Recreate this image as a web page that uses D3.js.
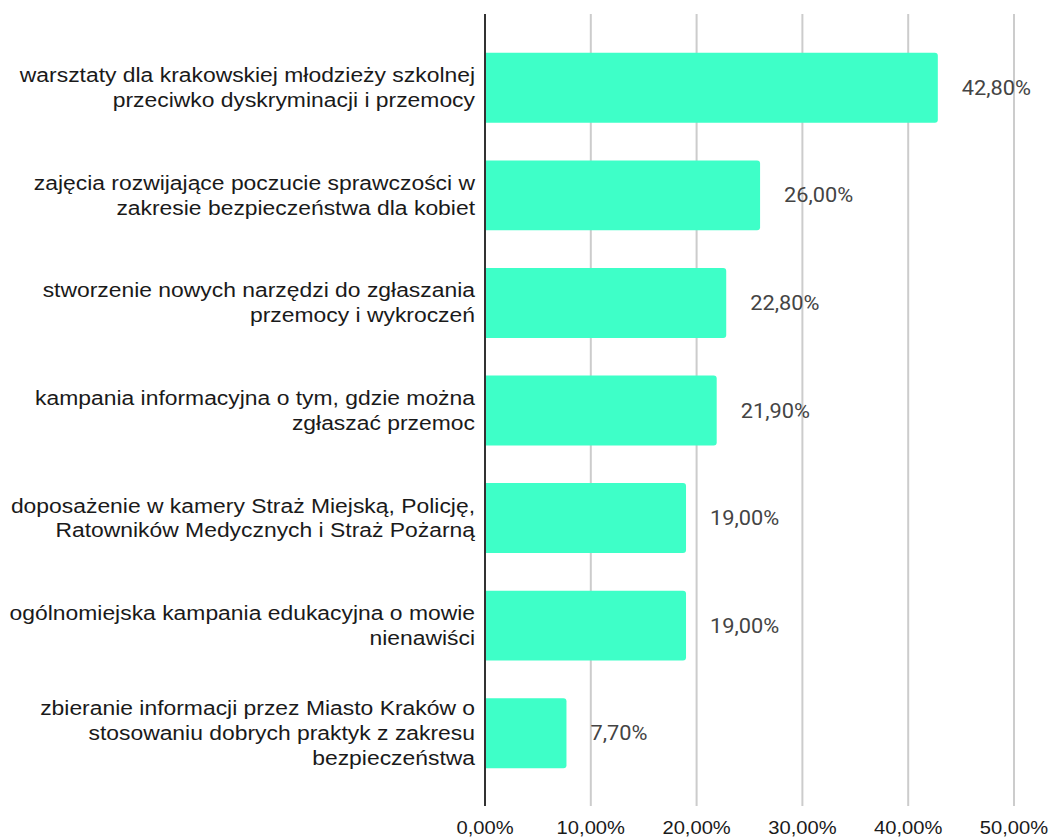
<!DOCTYPE html>
<html>
<head>
<meta charset="utf-8">
<script src="https://cdn.jsdelivr.net/npm/d3@7"></script>
<style>
  body { margin: 0; background: #fff; }
  svg { display: block; }
</style>
</head>
<body>
<svg id="chart" width="1052" height="837"></svg>
<script>
// etykiety kategorii (podzielone na linie jak w oryginale)
const categories = [
  ['warsztaty dla krakowskiej młodzieży szkolnej', 'przeciwko dyskryminacji i przemocy'],
  ['zajęcia rozwijające poczucie sprawczości w', 'zakresie bezpieczeństwa dla kobiet'],
  ['stworzenie nowych narzędzi do zgłaszania', 'przemocy i wykroczeń'],
  ['kampania informacyjna o tym, gdzie można', 'zgłaszać przemoc'],
  ['doposażenie w kamery Straż Miejską, Policję,', 'Ratowników Medycznych i Straż Pożarną'],
  ['ogólnomiejska kampania edukacyjna o mowie', 'nienawiści'],
  ['zbieranie informacji przez Miasto Kraków o', 'stosowaniu dobrych praktyk z zakresu', 'bezpieczeństwa']
]
const values = [42.8, 26.0, 22.8, 21.9, 19.0, 19.0, 7.7]
const ticks = [0, 10, 20, 30, 40, 50]

const fmt = (v) => v.toFixed(2).replace('.', ',') + '%'

const svg = d3.select('#chart')
const left = 485, right = 1014
const gridTop = 14, gridBottom = 806
const labelFont = 'Arial, "Liberation Sans", sans-serif'
const sx = 1.09 // obraz źródłowy jest lekko rozciągnięty w poziomie

const x = d3.scaleLinear().domain([0, 50]).range([left, right])
const y = d3.scaleBand()
  .domain(d3.range(categories.length))
  .range([34, 787])
  .paddingInner(0.35)
  .paddingOuter(0.175)

// siatka
svg.append('g')
  .selectAll('line')
  .data(ticks.slice(1))
  .enter()
  .append('line')
  .attr('x1', d => x(d)).attr('x2', d => x(d))
  .attr('y1', gridTop).attr('y2', gridBottom)
  .style('stroke', '#cccccc')
  .style('stroke-width', 2)

// słupki
svg.append('g')
  .selectAll('path')
  .data(values)
  .enter()
  .append('path')
  .attr('d', (d, i) => {
    const x0 = x(0), x1 = x(d), y0 = y(i), h = y.bandwidth(), r = 3
    return `M${x0},${y0}H${x1 - r}Q${x1},${y0} ${x1},${y0 + r}V${y0 + h - r}Q${x1},${y0 + h} ${x1 - r},${y0 + h}H${x0}Z`
  })
  .style('fill', '#3effc8')

// oś zerowa
svg.append('line')
  .attr('x1', x(0)).attr('x2', x(0))
  .attr('y1', gridTop).attr('y2', gridBottom)
  .style('stroke', '#333333')
  .style('stroke-width', 2)

// wartości
svg.append('g')
  .selectAll('text')
  .data(values)
  .enter()
  .append('text')
  .attr('transform', (d, i) => `translate(${x(d) + 24},${y(i) + y.bandwidth() / 2}) scale(${sx},1)`)
  .attr('dy', '0.35em')
  .style('font-family', 'Roboto, sans-serif')
  .style('font-size', '20px')
  .style('fill', '#444444')
  .text(d => fmt(d))

// etykiety kategorii
const lineH = 25
svg.append('g')
  .selectAll('text')
  .data(categories)
  .enter()
  .append('text')
  .attr('text-anchor', 'end')
  .attr('transform', (lines, i) => `translate(475,${y(i) + y.bandwidth() / 2}) scale(${sx},1)`)
  .style('font-family', labelFont)
  .style('font-size', '21px')
  .style('fill', '#1a1a1a')
  .each(function (lines) {
    const start = -(lines.length - 1) * lineH / 2
    d3.select(this).selectAll('tspan')
      .data(lines)
      .enter()
      .append('tspan')
      .attr('x', 0)
      .attr('y', (l, j) => start + j * lineH)
      .attr('dy', '0.33em')
      .text(l => l)
  })

// etykiety osi X
svg.append('g')
  .selectAll('text')
  .data(ticks)
  .enter()
  .append('text')
  .attr('transform', d => `translate(${x(d)},834) scale(${sx},1)`)
  .attr('text-anchor', 'middle')
  .style('font-family', labelFont)
  .style('font-size', '18.5px')
  .style('fill', '#1a1a1a')
  .text(d => fmt(d))
</script>
</body>
</html>
